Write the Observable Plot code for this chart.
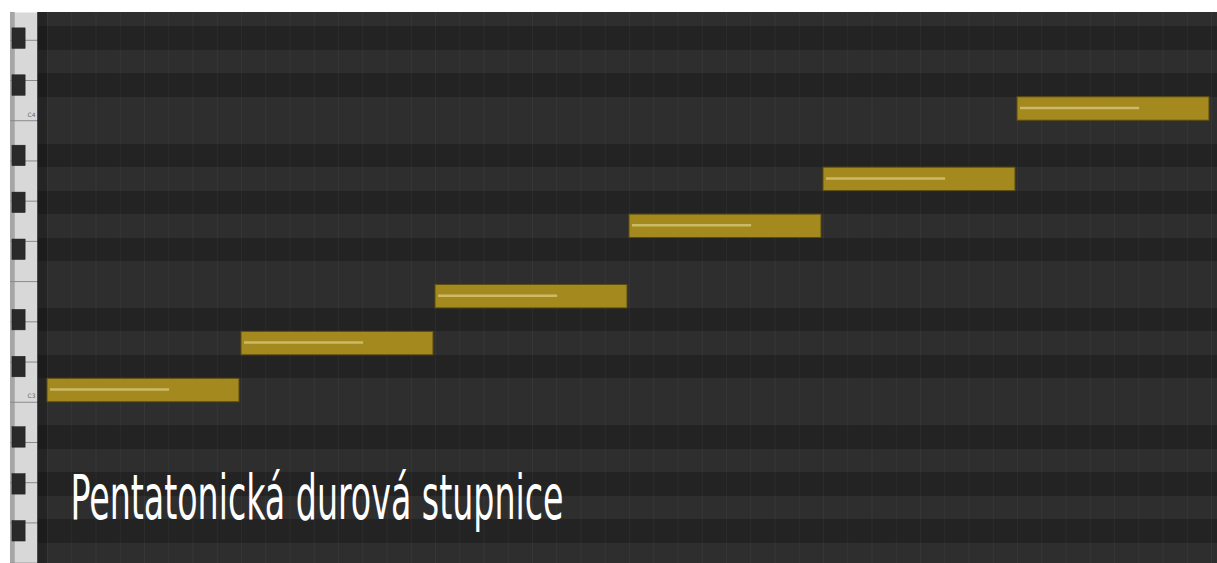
<!DOCTYPE html>
<html><head><meta charset="utf-8">
<script src="https://cdn.jsdelivr.net/npm/d3@7"></script>
<script src="https://cdn.jsdelivr.net/npm/@observablehq/plot@0.6"></script>
<style>
html,body{margin:0;padding:0;background:#fff;}
#chart{display:flex;width:1217px;height:563px;overflow:hidden;}
#chart svg{display:block;flex:none;}
</style></head><body><div id="chart"></div>
<script>
// ---- data ----
const noteNames = ["C3", "D3", "E3", "G3", "A3", "C4"];
const notePitches = [48, 50, 52, 55, 57, 60];      // MIDI numbers
const noteStarts = [0, 1, 2, 3, 4, 5];              // beats
const noteLengths = [1, 1, 1, 1, 1, 1];             // beats
const noteVelocities = [78, 78, 78, 78, 78, 78];    // 0..127
const octaveLabels = ["C3", "C4"];
const octavePitches = [48, 60];
const titleText = "Pentatonická durová stupnice";

// ---- structure ----
const blackPitchClasses = [1, 3, 6, 8, 10];
const isBlack = p => blackPitchClasses.includes(((p % 12) + 12) % 12);
const rowPitches = d3.range(39, 66);
const blackRows = rowPitches.filter(isBlack);
const whiteBounds = d3.range(-14, 6).map(k => 59.5 + k * 12 / 7);
const gridTicks = d3.range(-8, 57).map(i => i / 8);
const yDomain = [40.627, 64.113];
const xDomain = [-0.0464, 6.031];

const notes = notePitches.map((p, i) => ({
  name: noteNames[i], pitch: p, start: noteStarts[i], len: noteLengths[i], vel: noteVelocities[i]
}));
const octaves = octavePitches.map((p, i) => ({pitch: p, label: octaveLabels[i]}));

const titleFont = "'Liberation Sans Narrow', 'DejaVu Sans Condensed', 'Roboto', sans-serif";

// ---- keyboard ----
const kb = Plot.plot({
  width: 38, height: 563,
  marginTop: 12, marginBottom: 0, marginLeft: 10, marginRight: 0,
  x: {domain: [0, 1], axis: null},
  y: {domain: yDomain, axis: null},
  style: {background: "transparent", overflow: "hidden"},
  marks: [
    Plot.frame({fill: "#d8d8d8", stroke: null}),
    Plot.rect([0], {x1: 0, x2: 0.17, y1: yDomain[0], y2: yDomain[1], fill: "#a6a6a6"}),
    Plot.ruleY(whiteBounds, {stroke: "#8a8a8a", strokeWidth: 1, clip: true}),
    Plot.rect(blackRows, {x1: 0.07, x2: 0.54, y1: d => d - 0.5, y2: d => d + 0.5,
      insetTop: 1.5, insetBottom: 1.5, fill: "#2a2a2a", stroke: "#1a1a1a", strokeWidth: 0.5, clip: true}),
    Plot.text(octaves, {y: "pitch", text: "label", frameAnchor: "right", dx: -3, dy: 6,
      textAnchor: "end", fontSize: 6, fill: "#666", fontFamily: "DejaVu Sans"}),
    Plot.ruleX([1], {stroke: "#1b1b1b", strokeWidth: 2.5})
  ]
});

// ---- piano roll ----
const main = Plot.plot({
  width: 1179, height: 563,
  marginTop: 12, marginBottom: 0, marginLeft: 0, marginRight: 0,
  x: {domain: xDomain, axis: null},
  y: {domain: yDomain, axis: null},
  style: {background: "transparent", overflow: "hidden"},
  marks: [
    Plot.frame({fill: "#2b2b2b", stroke: null}),
    Plot.rect(rowPitches, {x1: xDomain[0], x2: xDomain[1], y1: d => d - 0.5, y2: d => d + 0.5,
      fill: d => isBlack(d) ? "#232323" : "#2e2e2e", shapeRendering: "crispEdges", clip: true}),
    Plot.ruleX(gridTicks, {stroke: "#ffffff", strokeOpacity: 0.045, strokeWidth: 1}),
    Plot.rect([0], {x1: xDomain[0], x2: 0, y1: yDomain[0], y2: yDomain[1], fill: "#000", fillOpacity: 0.2}),
    Plot.rect(notes, {x1: "start", x2: d => d.start + d.len, y1: d => d.pitch - 0.5, y2: d => d.pitch + 0.5,
      insetRight: 2, fill: "#a4891f", stroke: "#5c4d13", strokeWidth: 1}),
    Plot.ruleY(notes, {y: "pitch", x1: "start", x2: d => d.start + d.len * d.vel / 127,
      dx: 3, dy: -1, stroke: "#d3c06e", strokeWidth: 2.5, strokeOpacity: 0.9}),
    Plot.text([titleText], {text: d => d, frameAnchor: "bottom-left", lineAnchor: "bottom",
      dx: 32, dy: -45, fill: "#ffffff", fontSize: 62, fontFamily: titleFont, textAnchor: "start"})
  ]
});

// stretch title to the reference's width (condensed face)
main.querySelectorAll("g[aria-label='text'] text").forEach(t => {
  t.setAttribute("textLength", 493);
  t.setAttribute("lengthAdjust", "spacingAndGlyphs");
});

const chart = document.getElementById("chart");
chart.appendChild(kb);
chart.appendChild(main);
</script>
</body></html>
